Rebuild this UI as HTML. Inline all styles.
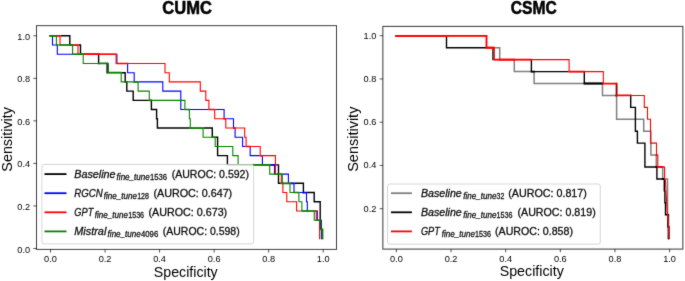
<!DOCTYPE html><html><head><meta charset="utf-8"><style>
html,body{margin:0;padding:0;background:#fff;width:685px;height:281px;overflow:hidden}
svg{display:block;will-change:transform}
text{font-family:"Liberation Sans",sans-serif;fill:#000}
.tk{stroke:#222;stroke-width:0.3}
</style></head><body>
<svg width="685" height="281" viewBox="0 0 685 281">
<rect x="0" y="0" width="685" height="281" fill="#fff"/>
<defs>
<clipPath id="cl"><rect x="36.5" y="25.65" width="300.0" height="223.75"/></clipPath>
<clipPath id="cr"><rect x="382.85" y="26.4" width="300.0" height="222.7"/></clipPath>
<filter id="bf" filterUnits="userSpaceOnUse" x="0" y="0" width="685" height="281" color-interpolation-filters="sRGB"><feConvolveMatrix order="3" kernelMatrix="0.0100 0.0800 0.0100 0.0800 0.6400 0.0800 0.0100 0.0800 0.0100" divisor="1" edgeMode="none" preserveAlpha="false"/></filter>
</defs>
<g filter="url(#bf)">
<text x="187.1" y="14.2" text-anchor="middle" font-weight="bold" font-size="17.6" stroke="#000" stroke-width="0.55" textLength="49.6" lengthAdjust="spacingAndGlyphs">CUMC</text>
<text x="533.7" y="14.2" text-anchor="middle" font-weight="bold" font-size="17.6" stroke="#000" stroke-width="0.55" textLength="46.0" lengthAdjust="spacingAndGlyphs">CSMC</text>
<g clip-path="url(#cl)" fill="none" stroke-linecap="butt">
<path d="M49.20,35.80H49.35M60.55,35.80H70.50M69.80,35.10V45.72M78.55,45.02H81.20M80.50,44.32V54.94M98.60,53.54V64.16M107.10,62.76V73.38M106.40,72.68H107.85M121.75,72.68H125.90M125.20,71.98V82.60M126.80,81.20V91.82M126.10,91.12H133.90M133.20,90.42V101.04M132.50,100.34H148.75M151.40,99.64V110.26M150.70,109.56H157.30M156.60,108.86V119.48M155.90,118.78H158.10M157.40,118.08V128.70M156.70,128.00H189.75M203.65,128.00H213.00M212.30,127.30V137.92M215.75,137.22H218.30M217.60,136.52V156.36M216.90,155.66H228.10M227.40,154.96V165.58M226.70,164.88H237.55M275.05,164.88H279.20M278.50,164.18V184.02M277.80,183.32H280.75M294.55,183.32H304.10M303.40,182.62V193.24M307.05,192.54H314.90M314.20,191.84V202.46M313.50,201.76H320.90M320.20,201.06V230.12M319.50,229.42H320.25M322.40,228.72V228.87M322.40,239.19V239.34" stroke="#000000" stroke-width="1.4"/>
<path d="M52.50,35.25V45.57M51.95,45.02H55.85M57.30,44.47V54.79M56.75,54.24H72.05M116.65,54.24H117.45M116.90,53.69V64.01M127.60,62.91V73.23M127.05,72.68H134.75M134.20,72.13V82.45M138.65,81.90H163.35M162.80,81.35V91.67M162.25,91.12H181.35M180.80,90.57V110.11M180.25,109.56H184.35M189.95,109.56H208.35M215.25,109.56H224.65M224.10,109.01V119.33M226.35,118.78H234.05M233.50,118.23V128.55M235.10,127.45V137.77M234.55,137.22H243.15M242.60,136.67V146.99M242.05,146.44H245.55M250.20,145.89V156.21M249.65,155.66H259.65M262.40,155.11V165.43M270.25,164.88H275.05M274.50,164.33V174.65M282.85,174.10H288.95M288.40,173.55V183.87M290.55,183.32H294.55M294.00,182.77V193.09M299.45,192.54H307.05M306.50,191.99V202.31M305.95,201.76H307.85M307.30,201.21V211.53M316.85,210.98H317.85M317.30,210.43V220.75M321.35,220.20H321.95M321.40,219.65V239.19" stroke="#0000ff" stroke-width="1.1"/>
<path d="M270.25,164.88H275.05M290.55,183.32H294.55M302.70,192.54H307.05" stroke="#0000ff" stroke-width="1.75"/>
<path d="M56.95,35.80H60.55M60.00,35.25V45.57M73.15,45.02H78.55M78.00,44.47V54.79M83.75,54.24H116.65M116.10,53.69V64.01M115.55,63.46H165.55M165.00,62.91V73.23M164.45,72.68H169.85M169.30,72.13V82.45M168.75,81.90H200.85M200.30,81.35V91.67M199.75,91.12H206.35M205.80,90.57V100.89M205.25,100.34H209.45M208.90,99.79V110.11M208.35,109.56H215.25M214.70,109.01V119.33M214.15,118.78H226.35M225.80,118.23V128.55M225.25,128.00H245.25M244.70,127.45V137.77M244.15,137.22H246.65M246.10,136.67V146.99M245.55,146.44H260.75M260.20,145.89V156.21M259.65,155.66H275.95M275.40,155.11V174.65M281.30,173.55V183.87M280.75,183.32H281.75M282.90,182.77V193.09M282.35,192.54H287.35M286.80,191.99V202.31M286.25,201.76H297.15M296.60,201.21V211.53M296.05,210.98H301.35M314.85,210.98H316.85M316.30,210.43V220.75M319.60,219.65V239.19" stroke="#ff0000" stroke-width="1.1"/>
<path d="M56.95,35.80H60.55M73.15,45.02H78.55M83.75,54.24H99.30M280.75,183.32H281.75" stroke="#ff0000" stroke-width="1.75"/>
<path d="M83.75,54.24H116.65M116.35,63.46H128.15M208.35,109.56H215.25M223.55,118.78H226.35M232.95,128.00H235.65M245.55,146.44H250.75M259.65,155.66H262.95M314.85,210.98H316.85" stroke="#ff0000" stroke-width="1.45"/>
<path d="M49.35,35.80H56.95M56.40,35.25V45.57M55.85,45.02H73.15M72.60,44.47V54.79M72.05,54.24H83.75M83.20,53.69V64.01M82.65,63.46H108.95M108.40,62.91V73.23M107.85,72.68H121.75M121.20,72.13V82.45M120.65,81.90H138.65M138.10,81.35V91.67M137.55,91.12H149.85M149.30,90.57V100.89M148.75,100.34H185.45M184.90,99.79V110.11M184.35,109.56H189.95M189.40,109.01V119.33M188.85,118.78H190.85M190.30,118.23V128.55M189.75,128.00H203.65M203.10,127.45V137.77M202.55,137.22H215.75M215.20,136.67V146.99M214.65,146.44H233.35M232.80,145.89V156.21M232.25,155.66H238.65M238.10,155.11V165.43M237.55,164.88H270.25M269.70,164.33V174.65M269.15,174.10H282.85M282.30,173.55V183.87M281.75,183.32H290.55M290.00,182.77V193.09M289.45,192.54H299.45M298.90,191.99V202.31M298.35,201.76H302.45M301.90,201.21V211.53M301.35,210.98H314.85M314.30,210.43V220.75M313.75,220.20H321.35M320.80,219.65V229.97M320.25,229.42H323.05M322.50,228.87V239.19" stroke="#0a8000" stroke-width="1.1"/>
<path d="M49.35,35.80H56.95M69.10,45.02H73.15M79.80,54.24H83.75M97.90,63.46H107.80M107.85,72.68H121.75M124.50,81.90H127.50M148.75,100.34H152.10M189.75,128.00H203.65M211.60,137.22H215.75M237.55,164.88H270.25M281.75,183.32H290.55M320.25,229.42H323.05M322.50,228.87V239.19" stroke="#0a8000" stroke-width="1.75"/>
<path d="M49.35,35.80H53.05M49.35,35.80H56.95M55.85,45.02H57.85M59.45,45.02H73.15M72.05,54.24H83.75M77.45,54.24H83.75M133.65,81.90H138.65M184.35,109.56H189.95M261.85,164.88H270.25M273.95,174.10H282.85M274.85,174.10H281.85M287.85,183.32H290.55M281.75,183.32H283.45M293.45,192.54H299.45M306.75,210.98H314.85M301.35,210.98H314.85M316.75,220.20H321.35M315.75,220.20H320.15" stroke="#0a8000" stroke-width="1.45"/>
</g>
<g clip-path="url(#cr)" fill="none" stroke-linecap="butt">
<path d="M395.15,35.80H395.20M487.05,35.80H487.25M486.50,35.05V35.25M486.50,48.28V48.48M494.85,47.73H500.45M499.70,46.98V60.41M514.30,58.91V72.34M513.55,71.59H530.70M534.10,70.84V84.27M533.35,83.52H583.60M602.50,82.77V96.20M601.75,95.45H615.70M616.60,96.15V120.06M615.85,119.31H644.45M643.70,118.56V131.99M642.95,131.24H651.65M650.90,130.49V155.85M650.15,155.10H655.95M656.30,155.65V167.78M662.70,166.28V179.71M665.00,178.96H668.25M667.50,178.21V214.05M668.50,214.75H669.35M668.60,214.00V225.98M668.60,239.31V239.36" stroke="#808080" stroke-width="1.5"/>
<path d="M395.20,35.80H395.35M446.50,35.10V48.43M445.80,47.73H485.95M493.00,47.03V60.36M492.30,59.66H493.75M531.40,58.96V72.29M530.70,71.59H568.55M584.30,70.89V84.22M583.60,83.52H602.75M616.40,82.82V96.15M615.70,95.45H616.45M630.70,94.75V108.08M630.00,107.38H636.10M635.40,106.68V131.94M634.70,131.24H638.10M637.40,130.54V143.87M636.70,143.17H645.60M644.90,142.47V167.73M644.20,167.03H657.25M656.90,166.33V179.66M656.20,178.96H665.00M664.30,178.26V191.59M663.60,190.89H665.60M664.90,190.19V203.52M664.20,202.82H666.20M665.50,202.12V215.45M664.80,214.75H668.50M667.80,214.05V227.38M667.10,226.68H669.30M668.60,225.98V239.31" stroke="#000000" stroke-width="1.4"/>
<path d="M395.20,35.80H395.35M485.75,47.73H485.95M530.70,71.59H534.85M583.60,83.52H602.75M616.40,94.70V96.15M615.70,95.45H616.45M655.55,167.03H657.25M661.95,178.96H665.00M666.75,214.75H668.50M667.80,214.05V215.50M668.60,225.98V239.31" stroke="#000000" stroke-width="1.85"/>
<path d="M395.35,35.80H487.05M486.50,35.25V48.28M485.95,47.73H494.85M494.30,47.18V60.21M493.75,59.66H569.65M569.10,59.11V72.14M568.55,71.59H603.85M603.30,71.04V84.07M602.75,83.52H617.55M617.00,82.97V96.00M616.45,95.45H644.85M644.30,94.90V107.93M643.75,107.38H648.05M647.50,106.83V119.86M646.95,119.31H651.05M650.50,118.76V143.72M649.95,143.17H657.05M656.50,142.62V155.65M655.95,155.10H658.35M657.80,154.55V167.58M657.25,167.03H665.15M664.60,166.48V179.51M664.60,178.96L665.40,180.00M665.40,180.00L666.20,195.00M666.20,195.00L667.20,210.00M667.20,210.00L668.30,225.00M668.30,225.00L668.80,238.61" stroke="#ff0000" stroke-width="1.1"/>
<path d="M395.35,35.80H487.05M486.50,35.25V48.28M485.95,47.73H494.85M498.95,59.66H515.05M602.75,83.52H603.25M616.45,95.45H617.35M656.50,154.35V155.65M655.95,155.10H657.05M657.25,167.03H663.45" stroke="#ff0000" stroke-width="1.85"/>
<path d="M395.35,35.80H447.20M485.95,47.73H493.70M493.75,59.66H532.10M568.55,71.59H585.00M602.75,83.52H617.10M616.45,95.45H631.40M657.25,167.03H657.60" stroke="#ff0000" stroke-width="1.75"/>
</g>
<rect x="36.5" y="25.65" width="300.00" height="223.75" fill="none" stroke="#000" stroke-width="1.0" opacity="0.75"/>
<rect x="382.85" y="26.4" width="300.00" height="222.70" fill="none" stroke="#000" stroke-width="1.1" opacity="0.72"/>
<line x1="50.50" y1="249.4" x2="50.50" y2="252.6" stroke="#000" stroke-width="0.9" opacity="0.75"/>
<text x="50.50" y="261.9" text-anchor="middle" font-size="9.2" fill="#1a1a1a">0.0</text>
<line x1="33.3" y1="248.50" x2="36.5" y2="248.50" stroke="#000" stroke-width="0.9" opacity="0.75"/>
<text x="30.1" y="252.50" text-anchor="end" font-size="9.2" fill="#1a1a1a">0.0</text>
<line x1="105.04" y1="249.4" x2="105.04" y2="252.6" stroke="#000" stroke-width="0.9" opacity="0.75"/>
<text x="105.04" y="261.9" text-anchor="middle" font-size="9.2" fill="#1a1a1a">0.2</text>
<line x1="33.3" y1="205.96" x2="36.5" y2="205.96" stroke="#000" stroke-width="0.9" opacity="0.75"/>
<text x="30.1" y="209.96" text-anchor="end" font-size="9.2" fill="#1a1a1a">0.2</text>
<line x1="159.58" y1="249.4" x2="159.58" y2="252.6" stroke="#000" stroke-width="0.9" opacity="0.75"/>
<text x="159.58" y="261.9" text-anchor="middle" font-size="9.2" fill="#1a1a1a">0.4</text>
<line x1="33.3" y1="163.42" x2="36.5" y2="163.42" stroke="#000" stroke-width="0.9" opacity="0.75"/>
<text x="30.1" y="167.42" text-anchor="end" font-size="9.2" fill="#1a1a1a">0.4</text>
<line x1="214.12" y1="249.4" x2="214.12" y2="252.6" stroke="#000" stroke-width="0.9" opacity="0.75"/>
<text x="214.12" y="261.9" text-anchor="middle" font-size="9.2" fill="#1a1a1a">0.6</text>
<line x1="33.3" y1="120.88" x2="36.5" y2="120.88" stroke="#000" stroke-width="0.9" opacity="0.75"/>
<text x="30.1" y="124.88" text-anchor="end" font-size="9.2" fill="#1a1a1a">0.6</text>
<line x1="268.66" y1="249.4" x2="268.66" y2="252.6" stroke="#000" stroke-width="0.9" opacity="0.75"/>
<text x="268.66" y="261.9" text-anchor="middle" font-size="9.2" fill="#1a1a1a">0.8</text>
<line x1="33.3" y1="78.34" x2="36.5" y2="78.34" stroke="#000" stroke-width="0.9" opacity="0.75"/>
<text x="30.1" y="82.34" text-anchor="end" font-size="9.2" fill="#1a1a1a">0.8</text>
<line x1="323.20" y1="249.4" x2="323.20" y2="252.6" stroke="#000" stroke-width="0.9" opacity="0.75"/>
<text x="323.20" y="261.9" text-anchor="middle" font-size="9.2" fill="#1a1a1a">1.0</text>
<line x1="33.3" y1="35.80" x2="36.5" y2="35.80" stroke="#000" stroke-width="0.9" opacity="0.75"/>
<text x="30.1" y="39.80" text-anchor="end" font-size="9.2" fill="#1a1a1a">1.0</text>
<line x1="396.40" y1="249.1" x2="396.40" y2="252.29999999999998" stroke="#000" stroke-width="0.9" opacity="0.75"/>
<text x="396.40" y="261.8" text-anchor="middle" font-size="9.2" fill="#1a1a1a">0.0</text>
<line x1="451.04" y1="249.1" x2="451.04" y2="252.29999999999998" stroke="#000" stroke-width="0.9" opacity="0.75"/>
<text x="451.04" y="261.8" text-anchor="middle" font-size="9.2" fill="#1a1a1a">0.2</text>
<line x1="505.68" y1="249.1" x2="505.68" y2="252.29999999999998" stroke="#000" stroke-width="0.9" opacity="0.75"/>
<text x="505.68" y="261.8" text-anchor="middle" font-size="9.2" fill="#1a1a1a">0.4</text>
<line x1="560.32" y1="249.1" x2="560.32" y2="252.29999999999998" stroke="#000" stroke-width="0.9" opacity="0.75"/>
<text x="560.32" y="261.8" text-anchor="middle" font-size="9.2" fill="#1a1a1a">0.6</text>
<line x1="614.96" y1="249.1" x2="614.96" y2="252.29999999999998" stroke="#000" stroke-width="0.9" opacity="0.75"/>
<text x="614.96" y="261.8" text-anchor="middle" font-size="9.2" fill="#1a1a1a">0.8</text>
<line x1="669.60" y1="249.1" x2="669.60" y2="252.29999999999998" stroke="#000" stroke-width="0.9" opacity="0.75"/>
<text x="669.60" y="261.8" text-anchor="middle" font-size="9.2" fill="#1a1a1a">1.0</text>
<line x1="379.65000000000003" y1="208.70" x2="382.85" y2="208.70" stroke="#000" stroke-width="0.9" opacity="0.75"/>
<text x="376.3" y="211.70" text-anchor="middle" font-size="9.2" fill="#1a1a1a" style="text-anchor:end">0.2</text>
<line x1="379.65000000000003" y1="165.45" x2="382.85" y2="165.45" stroke="#000" stroke-width="0.9" opacity="0.75"/>
<text x="376.3" y="168.45" text-anchor="middle" font-size="9.2" fill="#1a1a1a" style="text-anchor:end">0.4</text>
<line x1="379.65000000000003" y1="122.20" x2="382.85" y2="122.20" stroke="#000" stroke-width="0.9" opacity="0.75"/>
<text x="376.3" y="125.20" text-anchor="middle" font-size="9.2" fill="#1a1a1a" style="text-anchor:end">0.6</text>
<line x1="379.65000000000003" y1="78.95" x2="382.85" y2="78.95" stroke="#000" stroke-width="0.9" opacity="0.75"/>
<text x="376.3" y="81.95" text-anchor="middle" font-size="9.2" fill="#1a1a1a" style="text-anchor:end">0.8</text>
<line x1="379.65000000000003" y1="35.70" x2="382.85" y2="35.70" stroke="#000" stroke-width="0.9" opacity="0.75"/>
<text x="376.3" y="38.70" text-anchor="middle" font-size="9.2" fill="#1a1a1a" style="text-anchor:end">1.0</text>
<text x="153.8" y="276.5" font-size="14.2" textLength="63.9" lengthAdjust="spacingAndGlyphs" fill="#111">Specificity</text>
<text x="499.7" y="276.1" font-size="14.2" textLength="64.1" lengthAdjust="spacingAndGlyphs" fill="#111">Specificity</text>
<text transform="translate(11.7,171.7) rotate(-90)" x="0" y="0" font-size="14.2" textLength="64.7" lengthAdjust="spacingAndGlyphs" fill="#111">Sensitivity</text>
<text transform="translate(357.9,171.8) rotate(-90)" x="0" y="0" font-size="14.2" textLength="65.2" lengthAdjust="spacingAndGlyphs" fill="#111">Sensitivity</text>
<rect x="41.9" y="164.4" width="211.70" height="79.50" rx="2.2" ry="2.2" fill="#fff" fill-opacity="0.8" stroke="#cccccc" stroke-opacity="0.8" stroke-width="1"/>
<line x1="44.5" y1="174.10" x2="66.5" y2="174.10" stroke="#000000" stroke-width="1.8" stroke-linecap="butt"/>
<text x="74.3" y="177.60" font-size="10.5" font-style="italic" textLength="41.3" lengthAdjust="spacingAndGlyphs" fill="#222" class="tk">Baseline</text>
<text x="116.6" y="179.70" font-size="8.3" font-style="italic" textLength="33.2" lengthAdjust="spacingAndGlyphs" fill="#222" class="tk">fine_tune</text>
<text x="150.00" y="179.70" font-size="8.3" textLength="17.00" lengthAdjust="spacingAndGlyphs" fill="#222" class="tk">1536</text>
<text x="171.7" y="177.60" font-size="10.5" textLength="77.3" lengthAdjust="spacingAndGlyphs" fill="#222" class="tk">(AUROC: 0.592)</text>
<line x1="44.5" y1="193.20" x2="66.5" y2="193.20" stroke="#0000ff" stroke-width="1.8" stroke-linecap="butt"/>
<text x="74.3" y="196.70" font-size="10.5" font-style="italic" textLength="28.5" lengthAdjust="spacingAndGlyphs" fill="#222" class="tk">RGCN</text>
<text x="103.8" y="198.80" font-size="8.3" font-style="italic" textLength="33.2" lengthAdjust="spacingAndGlyphs" fill="#222" class="tk">fine_tune</text>
<text x="137.20" y="198.80" font-size="8.3" textLength="11.80" lengthAdjust="spacingAndGlyphs" fill="#222" class="tk">128</text>
<text x="153.4" y="196.70" font-size="10.5" textLength="78.8" lengthAdjust="spacingAndGlyphs" fill="#222" class="tk">(AUROC: 0.647)</text>
<line x1="44.5" y1="212.30" x2="66.5" y2="212.30" stroke="#ff0000" stroke-width="1.8" stroke-linecap="butt"/>
<text x="74.3" y="215.80" font-size="10.5" font-style="italic" textLength="19.0" lengthAdjust="spacingAndGlyphs" fill="#222" class="tk">GPT</text>
<text x="94.8" y="217.90" font-size="8.3" font-style="italic" textLength="33.2" lengthAdjust="spacingAndGlyphs" fill="#222" class="tk">fine_tune</text>
<text x="128.20" y="217.90" font-size="8.3" textLength="15.90" lengthAdjust="spacingAndGlyphs" fill="#222" class="tk">1536</text>
<text x="148.5" y="215.80" font-size="10.5" textLength="78.7" lengthAdjust="spacingAndGlyphs" fill="#222" class="tk">(AUROC: 0.673)</text>
<line x1="44.5" y1="231.40" x2="66.5" y2="231.40" stroke="#0a8000" stroke-width="1.8" stroke-linecap="butt"/>
<text x="74.3" y="234.90" font-size="10.5" font-style="italic" textLength="32.0" lengthAdjust="spacingAndGlyphs" fill="#222" class="tk">Mistral</text>
<text x="107.6" y="237.00" font-size="8.3" font-style="italic" textLength="33.2" lengthAdjust="spacingAndGlyphs" fill="#222" class="tk">fine_tune</text>
<text x="141.00" y="237.00" font-size="8.3" textLength="17.20" lengthAdjust="spacingAndGlyphs" fill="#222" class="tk">4096</text>
<text x="162.8" y="234.90" font-size="10.5" textLength="76.9" lengthAdjust="spacingAndGlyphs" fill="#222" class="tk">(AUROC: 0.598)</text>
<rect x="387.5" y="184.0" width="212.80" height="60.20" rx="2.2" ry="2.2" fill="#fff" fill-opacity="0.8" stroke="#cccccc" stroke-opacity="0.8" stroke-width="1"/>
<line x1="391.0" y1="193.20" x2="411.9" y2="193.20" stroke="#808080" stroke-width="1.8" stroke-linecap="butt"/>
<text x="420.9" y="196.70" font-size="10.5" font-style="italic" textLength="40.9" lengthAdjust="spacingAndGlyphs" fill="#222" class="tk">Baseline</text>
<text x="463.2" y="198.80" font-size="8.3" font-style="italic" textLength="33.2" lengthAdjust="spacingAndGlyphs" fill="#222" class="tk">fine_tune</text>
<text x="496.60" y="198.80" font-size="8.3" textLength="7.70" lengthAdjust="spacingAndGlyphs" fill="#222" class="tk">32</text>
<text x="508.2" y="196.70" font-size="10.5" textLength="78.7" lengthAdjust="spacingAndGlyphs" fill="#222" class="tk">(AUROC: 0.817)</text>
<line x1="391.0" y1="212.30" x2="411.9" y2="212.30" stroke="#000000" stroke-width="1.8" stroke-linecap="butt"/>
<text x="420.9" y="215.80" font-size="10.5" font-style="italic" textLength="40.9" lengthAdjust="spacingAndGlyphs" fill="#222" class="tk">Baseline</text>
<text x="463.2" y="217.90" font-size="8.3" font-style="italic" textLength="33.2" lengthAdjust="spacingAndGlyphs" fill="#222" class="tk">fine_tune</text>
<text x="496.60" y="217.90" font-size="8.3" textLength="15.90" lengthAdjust="spacingAndGlyphs" fill="#222" class="tk">1536</text>
<text x="517.5" y="215.80" font-size="10.5" textLength="78.2" lengthAdjust="spacingAndGlyphs" fill="#222" class="tk">(AUROC: 0.819)</text>
<line x1="391.0" y1="231.40" x2="411.9" y2="231.40" stroke="#ff0000" stroke-width="1.8" stroke-linecap="butt"/>
<text x="420.9" y="234.90" font-size="10.5" font-style="italic" textLength="19.0" lengthAdjust="spacingAndGlyphs" fill="#222" class="tk">GPT</text>
<text x="441.7" y="237.00" font-size="8.3" font-style="italic" textLength="33.2" lengthAdjust="spacingAndGlyphs" fill="#222" class="tk">fine_tune</text>
<text x="475.10" y="237.00" font-size="8.3" textLength="15.90" lengthAdjust="spacingAndGlyphs" fill="#222" class="tk">1536</text>
<text x="495.0" y="234.90" font-size="10.5" textLength="78.0" lengthAdjust="spacingAndGlyphs" fill="#222" class="tk">(AUROC: 0.858)</text>
</g>
</svg></body></html>
